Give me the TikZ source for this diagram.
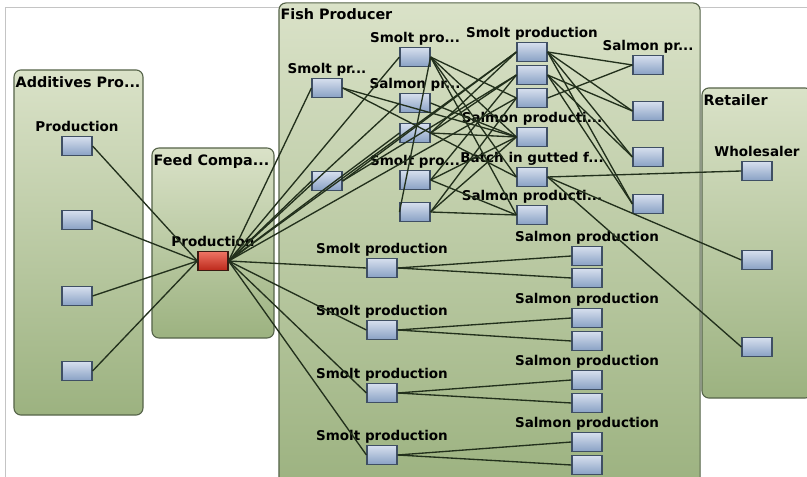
\documentclass[tikz,border=0pt]{standalone}
\usepackage{fontspec}
\setmainfont{DejaVu Sans}
\usepackage{tikz}
\usetikzlibrary{positioning}
\definecolor{group_top}{HTML}{DAE2C8}
\definecolor{group_bottom}{HTML}{9CB280}
\definecolor{group_line}{HTML}{56644A}
\definecolor{task_top}{HTML}{D6DFEE}
\definecolor{task_bottom}{HTML}{89A1C4}
\definecolor{task_line}{HTML}{3F4F64}
\definecolor{feed_top}{HTML}{EE7464}
\definecolor{feed_bottom}{HTML}{BC281A}
\definecolor{feed_line}{HTML}{3A1A12}
\definecolor{link_col}{HTML}{22301C}
\definecolor{frame_gray}{HTML}{C4C4C4}
\tikzset{groupbox/.style={rectangle, rounded corners=5pt, draw=group_line, line width=0.8pt, top color=group_top, bottom color=group_bottom, inner sep=0pt}}
\tikzset{grouptitle/.style={anchor=north west, inner sep=0pt, font=\fontsize{10.2}{12}\selectfont\bfseries}}
\tikzset{taskbox/.style={rectangle, draw=task_line, line width=0.8pt, top color=task_top, bottom color=task_bottom, minimum width=0.75cm, minimum height=0.475cm, inner sep=0pt}}
\tikzset{feedbox/.style={taskbox, draw=feed_line, top color=feed_top, bottom color=feed_bottom}}
\tikzset{tasklabel/.style={inner sep=0pt, text height=7pt, text depth=2pt, label distance=1pt, font=\fontsize{9.6}{11}\selectfont\bfseries}}
\tikzset{link/.style={draw=link_col, line width=0.95pt}}

\begin{document}
\begin{tikzpicture}[x=0.025cm, y=-0.025cm]
  \useasboundingbox (0,0) rectangle (807,477);
  \clip (0,0) rectangle (807,477);
  \draw[frame_gray, line width=0.5pt] (5,477) -- (5,7) -- (807,7);

  % companies
  \node[groupbox, minimum width=3.225cm, minimum height=8.625cm] (additives) at (78.5,242.5) {};
  \node[groupbox, minimum width=3.05cm, minimum height=4.75cm] (feed-company) at (213,243) {};
  \node[groupbox, minimum width=10.525cm, minimum height=12.175cm] (fish-producer) at (489.5,246.5) {};
  \node[groupbox, minimum width=2.75cm, minimum height=7.75cm] (retailer) at (757,243) {};

  \node[grouptitle] (additives-title) at ([shift={(1.4pt,-5pt)}]additives.north west) {Additives Pro...};
  \node[grouptitle] (feed-company-title) at ([shift={(1.4pt,-5pt)}]feed-company.north west) {Feed Compa...};
  \node[grouptitle] (fish-producer-title) at ([shift={(1.4pt,-4.3pt)}]fish-producer.north west) {Fish Producer};
  \node[grouptitle] (retailer-title) at ([shift={(1.4pt,-5pt)}]retailer.north west) {Retailer};

  % additives and feed
  \node[taskbox, label={[tasklabel]above:Production}] (additive-1) at (77,146) {};
  \node[taskbox] (additive-2) at (77,220) {};
  \node[taskbox] (additive-3) at (77,296) {};
  \node[taskbox] (additive-4) at (77,371) {};
  \node[feedbox, label={[tasklabel]above:Production}] (feed) at (213,261) {};

  % fish producer, upper part
  \node[taskbox, label={[tasklabel]above:Smolt pr...}] (fish-1-1) at (327,88) {};
  \node[taskbox] (fish-1-2) at (327,181) {};
  \node[taskbox, label={[tasklabel]above:Smolt pro...}] (fish-2-1) at (415,57) {};
  \node[taskbox, label={[tasklabel]above:Salmon pr...}] (fish-2-2) at (415,103) {};
  \node[taskbox] (fish-2-3) at (415,133) {};
  \node[taskbox, label={[tasklabel]above:Smolt pro...}] (fish-2-4) at (415,180) {};
  \node[taskbox] (fish-2-5) at (415,212) {};
  \node[taskbox, label={[tasklabel]above:Smolt production}] (fish-3-1) at (532,52) {};
  \node[taskbox] (fish-3-2) at (532,75) {};
  \node[taskbox] (fish-3-3) at (532,98) {};
  \node[taskbox, label={[tasklabel]above:Salmon producti...}] (fish-3-4) at (532,137) {};
  \node[taskbox, label={[tasklabel]above:Batch in gutted f...}] (fish-3-5) at (532,177) {};
  \node[taskbox, label={[tasklabel]above:Salmon producti...}] (fish-3-6) at (532,215) {};
  \node[taskbox, label={[tasklabel]above:Salmon pr...}] (fish-4-1) at (648,65) {};
  \node[taskbox] (fish-4-2) at (648,111) {};
  \node[taskbox] (fish-4-3) at (648,157) {};
  \node[taskbox] (fish-4-4) at (648,204) {};

  % fish producer, lower part
  \node[taskbox, label={[tasklabel]above:Smolt production}] (smolt-1) at (382,268) {};
  \node[taskbox, label={[tasklabel]above:Smolt production}] (smolt-2) at (382,330) {};
  \node[taskbox, label={[tasklabel]above:Smolt production}] (smolt-3) at (382,393) {};
  \node[taskbox, label={[tasklabel]above:Smolt production}] (smolt-4) at (382,455) {};
  \node[taskbox, label={[tasklabel]above:Salmon production}] (salmon-1-1) at (587,256) {};
  \node[taskbox] (salmon-1-2) at (587,278) {};
  \node[taskbox, label={[tasklabel]above:Salmon production}] (salmon-2-1) at (587,318) {};
  \node[taskbox] (salmon-2-2) at (587,341) {};
  \node[taskbox, label={[tasklabel]above:Salmon production}] (salmon-3-1) at (587,380) {};
  \node[taskbox] (salmon-3-2) at (587,403) {};
  \node[taskbox, label={[tasklabel]above:Salmon production}] (salmon-4-1) at (587,442) {};
  \node[taskbox] (salmon-4-2) at (587,465) {};

  % retailer
  \node[taskbox, label={[tasklabel]above:Wholesaler}] (retail-1) at (757,171) {};
  \node[taskbox] (retail-2) at (757,260) {};
  \node[taskbox] (retail-3) at (757,347) {};

  \draw[link] (additive-1.east) -- (feed.west);
  \draw[link] (additive-2.east) -- (feed.west);
  \draw[link] (additive-3.east) -- (feed.west);
  \draw[link] (additive-4.east) -- (feed.west);

  \draw[link] (feed.east) -- (fish-1-1.west);
  \draw[link] (feed.east) -- (fish-1-2.west);
  \draw[link] (feed.east) -- (fish-2-1.west);
  \draw[link] (feed.east) -- (fish-2-2.west);
  \draw[link] (feed.east) -- (fish-2-3.west);
  \draw[link] (feed.east) -- (fish-3-1.west);
  \draw[link] (feed.east) -- (fish-3-3.west);
  \draw[link] (feed.east) -- (smolt-1.west);
  \draw[link] (feed.east) -- (smolt-2.west);
  \draw[link] (feed.east) -- (smolt-3.west);
  \draw[link] (feed.east) -- (smolt-4.west);

  \draw[link] (fish-1-1.east) -- (fish-3-4.west);
  \draw[link] (fish-1-1.east) -- (fish-3-5.west);
  \draw[link] (fish-1-2.east) -- (fish-3-1.west);
  \draw[link] (fish-1-2.east) -- (fish-3-2.west);
  \draw[link] (fish-2-1.east) -- (fish-2-5.west);
  \draw[link] (fish-2-1.east) -- (fish-3-3.west);
  \draw[link] (fish-2-1.east) -- (fish-3-4.west);
  \draw[link] (fish-2-1.east) -- (fish-3-5.west);
  \draw[link] (fish-2-1.east) -- (fish-3-6.west);
  \draw[link] (fish-2-2.east) -- (fish-3-4.west);
  \draw[link] (fish-2-3.east) -- (fish-3-1.west);
  \draw[link] (fish-2-3.east) -- (fish-3-2.west);
  \draw[link] (fish-2-3.east) -- (fish-3-4.west);
  \draw[link] (fish-2-4.east) -- (fish-3-2.west);
  \draw[link] (fish-2-4.east) -- (fish-3-4.west);
  \draw[link] (fish-2-4.east) -- (fish-3-6.west);
  \draw[link] (fish-2-5.east) -- (fish-3-3.west);
  \draw[link] (fish-2-5.east) -- (fish-3-4.west);
  \draw[link] (fish-2-5.east) -- (fish-3-6.west);
  \draw[link] (fish-3-1.east) -- (fish-4-1.west);
  \draw[link] (fish-3-1.east) -- (fish-4-2.west);
  \draw[link] (fish-3-1.east) -- (fish-4-3.west);
  \draw[link] (fish-3-1.east) -- (fish-4-4.west);
  \draw[link] (fish-3-2.east) -- (fish-4-2.west);
  \draw[link] (fish-3-2.east) -- (fish-4-3.west);
  \draw[link] (fish-3-2.east) -- (fish-4-4.west);
  \draw[link] (fish-3-3.east) -- (fish-4-1.west);

  \draw[link] (fish-3-5.east) -- (retail-1.west);
  \draw[link] (fish-3-5.east) -- (retail-2.west);
  \draw[link] (fish-3-5.east) -- (retail-3.west);

  \draw[link] (smolt-1.east) -- (salmon-1-1.west);
  \draw[link] (smolt-1.east) -- (salmon-1-2.west);
  \draw[link] (smolt-2.east) -- (salmon-2-1.west);
  \draw[link] (smolt-2.east) -- (salmon-2-2.west);
  \draw[link] (smolt-3.east) -- (salmon-3-1.west);
  \draw[link] (smolt-3.east) -- (salmon-3-2.west);
  \draw[link] (smolt-4.east) -- (salmon-4-1.west);
  \draw[link] (smolt-4.east) -- (salmon-4-2.west);
\end{tikzpicture}
\end{document}
